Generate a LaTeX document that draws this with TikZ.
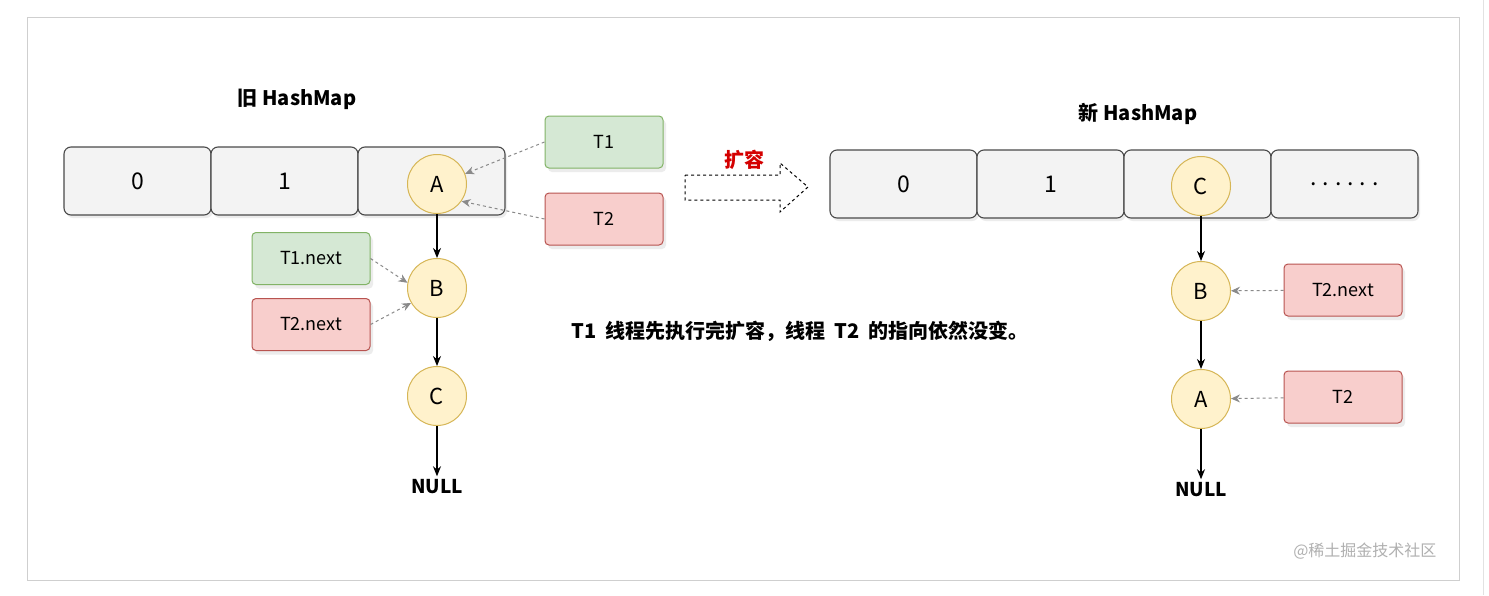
\documentclass[tikz,border=0pt]{standalone}
\usepackage{fontspec}
\setmainfont{Noto Sans CJK SC}
\usepackage{xcolor}
\usetikzlibrary{shapes.geometric, positioning, arrows.meta, shadows}
\definecolor{CellFill}{HTML}{F3F3F3}
\definecolor{CellLine}{HTML}{4A4A4A}
\definecolor{EntryFill}{HTML}{FFF2CC}
\definecolor{EntryLine}{HTML}{D6B656}
\definecolor{MintFill}{HTML}{D5E8D4}
\definecolor{MintLine}{HTML}{82B366}
\definecolor{RoseFill}{HTML}{F8CECC}
\definecolor{RoseLine}{HTML}{B85450}
\definecolor{PtrGray}{HTML}{8A8A8A}
\definecolor{GrowRed}{HTML}{D40000}
\definecolor{FrameGray}{HTML}{CFCFCF}
\definecolor{MarkGray}{HTML}{B0B0B0}

\begin{document}
\begin{tikzpicture}[x=1pt, y=-1pt,
    cell/.style={draw=CellLine, fill=CellFill, rounded corners=7pt, line width=1.1pt,
      minimum width=147pt, minimum height=68pt, font=\fontsize{23}{26}\selectfont,
      drop shadow={shadow xshift=2pt, shadow yshift=-3pt, opacity=0.15}},
    entry/.style={circle, draw=EntryLine, fill=EntryFill, line width=1pt,
      minimum size=59pt, inner sep=0pt, font=\fontsize{22}{26}\selectfont},
    ptr/.style={draw, rounded corners=4pt, line width=1pt, minimum width=118pt,
      minimum height=52pt, font=\fontsize{18}{22}\selectfont,
      drop shadow={shadow xshift=3pt, shadow yshift=-4pt, opacity=0.15}},
    mint/.style={ptr, draw=MintLine, fill=MintFill},
    rose/.style={ptr, draw=RoseLine, fill=RoseFill},
    link/.style={-{Stealth[length=10pt, width=8pt]}, line width=1.1pt},
    ref/.style={-{Stealth[length=9pt, width=8pt]}, PtrGray, dashed, line width=1pt},
    title/.style={font=\fontsize{20}{24}\selectfont\bfseries},
    tail/.style={font=\fontsize{19}{22}\selectfont\bfseries}]
  \useasboundingbox (0,0) rectangle (1489,595);
  \fill[white] (0,0) rectangle (1489,595);
  % Frame
  \draw[FrameGray, line width=1pt] (27,17) rectangle (1459,580);
  \draw[FrameGray!60, line width=1pt] (1483,0) -- (1483,595);

  % Old map
  \node[title] (oldname) at (297,99) {旧 HashMap};
  \node[cell] (old0) at (137.5,181) {0};
  \node[cell] (old1) at (284.5,181) {1};
  \node[cell] (old2) at (431.5,181) {};
  \node[entry] (oa) at (437,184) {A};
  \node[entry] (ob) at (437,288) {B};
  \node[entry] (oc) at (437,396) {C};
  \node[tail] (onull) at (437,487) {NULL};
  \draw[link] (oa) -- (ob);
  \draw[link] (ob) -- (oc);
  \draw[link] (oc) -- (onull);
  % Thread pointers
  \node[mint] (ot1) at (604,142) {T1};
  \node[rose] (ot2) at (604,219) {T2};
  \node[mint] (ot1n) at (311,258.5) {T1.next};
  \node[rose] (ot2n) at (311,324.5) {T2.next};
  \draw[ref] (ot1.west) -- (oa.20);
  \draw[ref] (ot2.west) -- (oa.-35);
  \draw[ref] (ot1n.east) -- (ob.170);
  \draw[ref] (ot2n.east) -- (ob.-150);

  % Resize arrow
  \node[text=GrowRed, font=\fontsize{20}{24}\selectfont\bfseries] (grow) at (744,160) {扩容};
  \draw[dashed, line width=1pt] (685,175) -- (780,175) -- (780,163) -- (808,187)
    -- (780,212) -- (780,200) -- (685,200) -- cycle;
  \node[font=\fontsize{20}{24}\selectfont\bfseries] (note) at (800,331)
    {T1\ \ 线程先执行完扩容，线程\ \ T2\ \ 的指向依然没变。};

  % New map
  \node[title] (newname) at (1138,114) {新 HashMap};
  \node[cell] (new0) at (903.5,184) {0};
  \node[cell] (new1) at (1050.5,184) {1};
  \node[cell] (new2) at (1197.5,184) {};
  \node[cell] (new3) at (1344.5,184) {.\hspace{6pt}.\hspace{6pt}.\hspace{6pt}.\hspace{6pt}.\hspace{6pt}.};
  \node[entry] (nc) at (1201,186) {C};
  \node[entry] (nb) at (1201,291) {B};
  \node[entry] (na) at (1201,399) {A};
  \node[tail] (nnull) at (1201,490) {NULL};
  \draw[link] (nc) -- (nb);
  \draw[link] (nb) -- (na);
  \draw[link] (na) -- (nnull);
  \node[rose] (nt2n) at (1343,290) {T2.next};
  \node[rose] (nt2) at (1343,397) {T2};
  \draw[ref] (nt2n) -- (nb);
  \draw[ref] (nt2) -- (na);

  \node[anchor=east, text=MarkGray, font=\fontsize{16}{19}\selectfont] (mark)
    at (1440,551) {@稀土掘金技术社区};
\end{tikzpicture}
\end{document}
